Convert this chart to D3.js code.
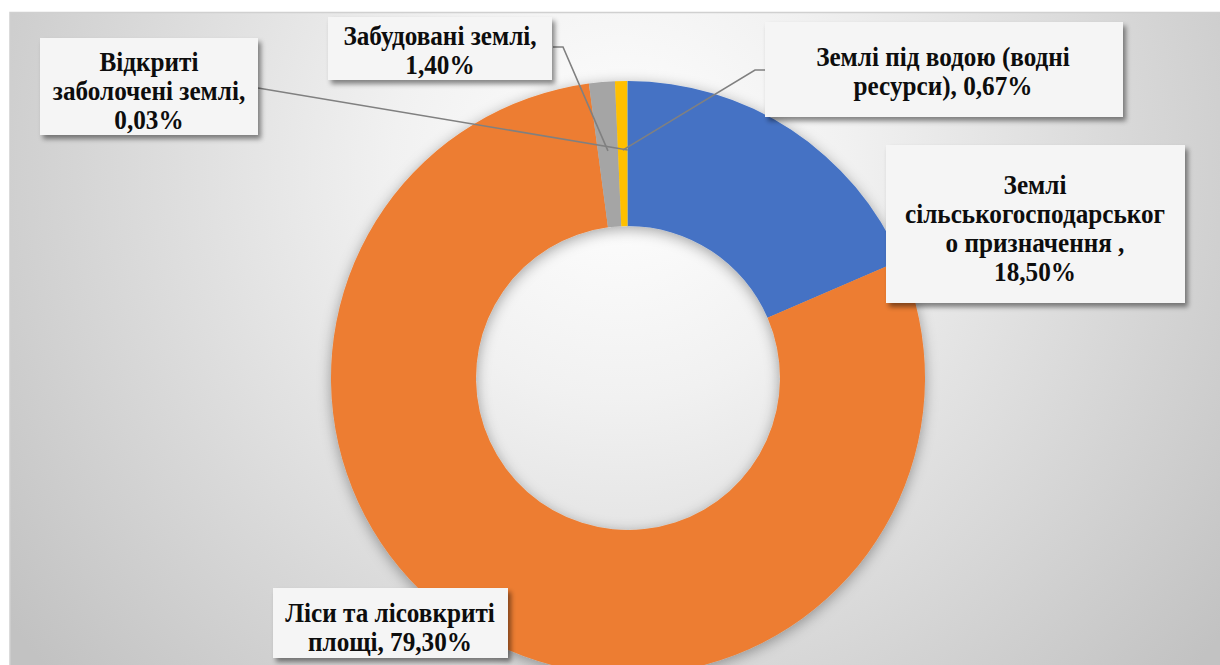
<!DOCTYPE html>
<html>
<head>
<meta charset="utf-8">
<script src="https://cdn.jsdelivr.net/npm/d3@7"></script>
<style>
  html, body { margin: 0; padding: 0; background: #ffffff; }
  #main { width: 1220px; height: 665px; overflow: hidden; }
</style>
</head>
<body>
<div id="main"></div>
<script>
const HEIGHT = 665;
const WIDTH = 1220;
const CENTER = { x: 628, y: 378 };
const OUTER_R = 297;
const INNER_R = 152;
const LEADER_R = 228;
const FONT = "'Liberation Serif', 'DejaVu Serif', 'Times New Roman', Times, serif";

/**
 * Data
 */
const categories = [
  "Землі сільськогосподарського призначення",
  "Ліси та лісовкриті площі",
  "Забудовані землі",
  "Землі під водою (водні ресурси)",
  "Відкриті заболочені землі"
];
const shares = [18.5, 79.3, 1.4, 0.67, 0.03];
const shareLabels = ["18,50%", "79,30%", "1,40%", "0,67%", "0,03%"];
const colors = ["#4472C4", "#ED7D31", "#A5A5A5", "#FFC000", "#5B9BD5"];

/**
 * Label layout (boxes, wrapped lines, leader line anchors)
 */
const labelLayout = [
  { box: [886, 145, 299, 158], cx: 1035, baseline: 194,
    lines: ["Землі", "сільськогосподарськог", "о призначення ,", "18,50%"], leader: null },
  { box: [273, 588, 235, 70], cx: 390, baseline: 622,
    lines: ["Ліси та лісовкриті", "площі, 79,30%"], leader: null },
  { box: [328, 17, 224, 63], cx: 440, baseline: 45,
    lines: ["Забудовані землі,", "1,40%"], leader: [[553, 47], [563, 47]] },
  { box: [765, 22, 358, 95], cx: 943, baseline: 66,
    lines: ["Землі під водою (водні", "ресурси), 0,67%"], leader: [[765, 70], [755, 70]] },
  { box: [40, 38, 218, 97], cx: 149, baseline: 71,
    lines: ["Відкриті", "заболочені землі,", "0,03%"], leader: [[258, 88]] }
];
const LINE_GAP = 29;

function getSvg() {
  if (d3.select('#main').select('svg').nodes().length) {
    return d3.select('#main').select('svg');
  }
  return d3.select("#main")
    .append("svg")
    .attr("width", WIDTH)
    .attr("height", HEIGHT)
    .attr("viewBox", [0, 0, WIDTH, HEIGHT]);
}

function renderDefs(svg) {
  const defs = svg.append("defs");

  const bg = defs.append("radialGradient")
    .attr("id", "bg-grad")
    .attr("gradientUnits", "userSpaceOnUse")
    .attr("cx", 620).attr("cy", 170).attr("r", 760);
  bg.append("stop").attr("offset", 0).attr("stop-color", "#ffffff");
  bg.append("stop").attr("offset", 0.3).attr("stop-color", "#f1f1f1");
  bg.append("stop").attr("offset", 1).attr("stop-color", "#c2c2c2");

  const ring = defs.append("filter")
    .attr("id", "ring-shadow")
    .attr("x", "-20%").attr("y", "-20%").attr("width", "140%").attr("height", "140%");
  ring.append("feDropShadow")
    .attr("dx", 0).attr("dy", 3).attr("stdDeviation", 7)
    .attr("flood-color", "#000").attr("flood-opacity", 0.35);

  const box = defs.append("filter")
    .attr("id", "box-shadow")
    .attr("x", "-10%").attr("y", "-20%").attr("width", "125%").attr("height", "150%");
  box.append("feDropShadow")
    .attr("dx", 3).attr("dy", 4).attr("stdDeviation", 2.5)
    .attr("flood-color", "#000").attr("flood-opacity", 0.45);
}

function renderBackground(svg) {
  svg.append("rect")
    .attr("x", 10).attr("y", 12)
    .attr("width", WIDTH - 10).attr("height", HEIGHT - 12)
    .attr("fill", "url(#bg-grad)");

  svg.append("path")
    .attr("d", `M10,${HEIGHT} V12.5 H${WIDTH}`)
    .attr("fill", "none")
    .attr("stroke", "#d0d0d0")
    .attr("stroke-width", 1.5);
}

function renderDonut(svg) {
  const pie = d3.pie().sort(null).value(d => d.value);
  const arcs = pie(shares.map((v, i) => ({ value: v, i })));

  const arc = d3.arc().innerRadius(INNER_R).outerRadius(OUTER_R);

  svg.append("g")
    .attr("transform", `translate(${CENTER.x},${CENTER.y})`)
    .attr("filter", "url(#ring-shadow)")
    .selectAll("path")
    .data(arcs)
    .join("path")
    .attr("d", arc)
    .attr("fill", d => colors[d.data.i]);

  return arcs;
}

function renderLabels(svg, arcs) {
  const mid = d3.arc().innerRadius(LEADER_R).outerRadius(LEADER_R);

  // leader lines under the boxes
  const leaders = svg.append("g");
  labelLayout.forEach((l, i) => {
    if (!l.leader) return;
    const [cx, cy] = mid.centroid(arcs[i]);
    const pts = l.leader.concat([[CENTER.x + cx, CENTER.y + cy]]);
    leaders.append("path")
      .attr("d", d3.line()(pts))
      .attr("fill", "none")
      .attr("stroke", "#808080")
      .attr("stroke-width", 1.6);
  });

  const g = svg.append("g");
  labelLayout.forEach((l, i) => {
    const [x, y, w, h] = l.box;
    g.append("rect")
      .attr("x", x).attr("y", y)
      .attr("width", w).attr("height", h)
      .attr("fill", "#f5f5f5")
      .attr("filter", "url(#box-shadow)");

    // Excel's text here looks tall and narrow, so squeeze it a little
    const t = g.append("text")
      .attr("transform", `translate(${l.cx},0) scale(0.9,1)`)
      .attr("text-anchor", "middle")
      .attr("font-family", FONT)
      .attr("font-weight", "bold")
      .attr("font-size", 28)
      .attr("fill", "#0d0d0d");
    l.lines.forEach((line, j) => {
      t.append("tspan")
        .attr("x", 0)
        .attr("y", l.baseline + j * LINE_GAP)
        .text(line);
    });
  });
}

function startScripts() {
  const svg = getSvg();
  renderDefs(svg);
  renderBackground(svg);
  const arcs = renderDonut(svg);
  renderLabels(svg, arcs);
}

startScripts();
</script>
</body>
</html>
